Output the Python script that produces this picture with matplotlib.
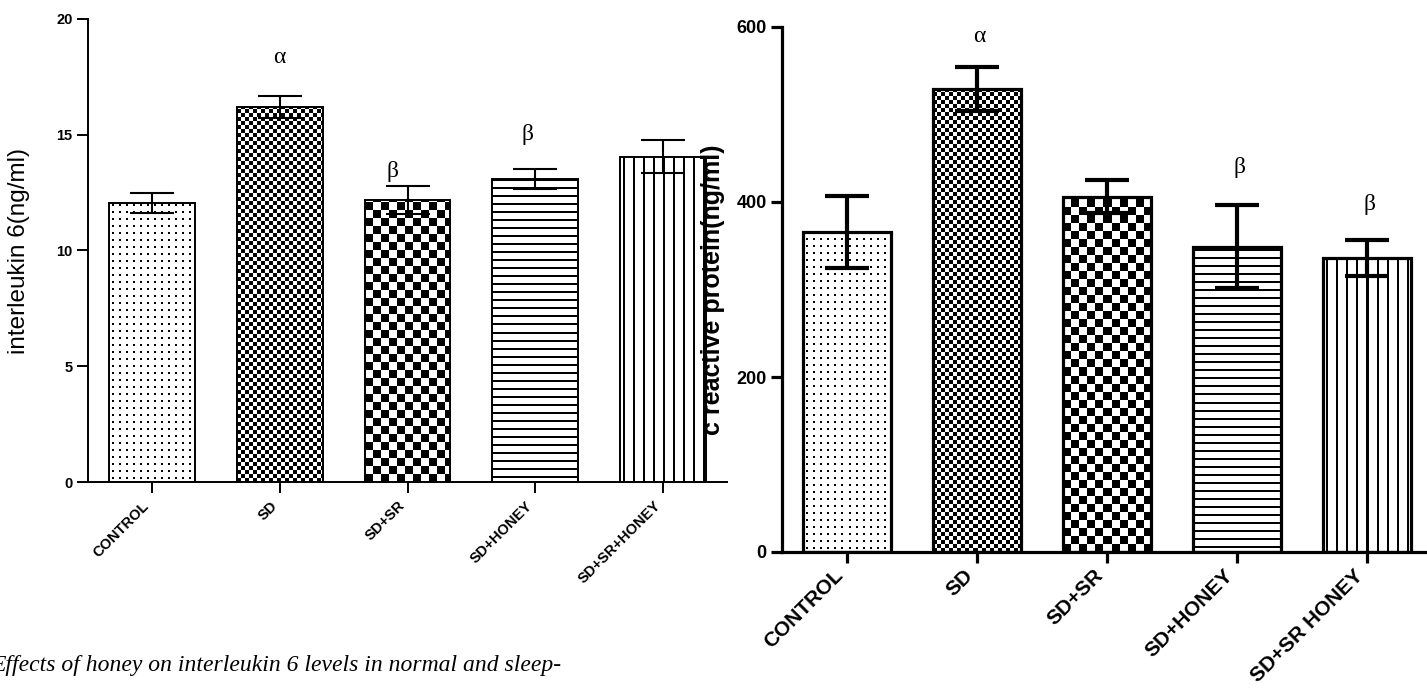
import numpy as np
import matplotlib
matplotlib.use("Agg")
import matplotlib.pyplot as plt

plt.rcParams['font.family'] = ['Liberation Sans', 'DejaVu Sans']

# data
groups_il6 = ['CONTROL', 'SD', 'SD+SR', 'SD+HONEY', 'SD+SR+HONEY']
il6_mean = [12.05, 16.2, 12.18, 13.1, 14.05]
il6_sem = [0.42, 0.47, 0.6, 0.43, 0.72]
il6_marks = [('α', 1.0, 18.35), ('β', 1.88, 13.4), ('β', 2.94, 15.0)]

groups_crp = ['CONTROL', 'SD', 'SD+SR', 'SD+HONEY', 'SD+SR HONEY']
crp_mean = [366, 529, 406, 349, 336]
crp_sem = [41, 25, 19, 47, 21]
crp_marks = [('α', 1.02, 589), ('β', 3.02, 440), ('β', 4.02, 397)]

patterns = ['dots', 'fine', 'coarse', 'hlines', 'vlines']


def texture(kind, w, h):
    yy, xx = np.mgrid[0:h, 0:w]
    if kind == 'dots':
        black = ((xx - 3) % 7 < 2) & ((yy - 3) % 7 < 2)
    elif kind == 'fine':
        black = (xx // 4 + yy // 4) % 2 == 0
    elif kind == 'coarse':
        black = (xx // 8 + yy // 8) % 2 == 0
    elif kind == 'hlines':
        black = (yy - 4) % 8 < 2
    else:
        black = (xx - 3) % 10 < 2
    return np.where(black, 0.0, 1.0)


def draw_panel(ax, names, means, sems, marks, ymax, step, lw, elw, tick_fs, xt_fs, xpad,
               label, label_fs, label_w, label_x):
    x = np.arange(len(names))
    width = 0.67
    ax.set_xlim(-0.5, 4.5)
    ax.set_ylim(0, ymax)
    bars = ax.bar(x, means, width=width, facecolor='none', edgecolor='black', linewidth=lw, zorder=3)
    for b, kind in zip(bars, patterns):
        x0, x1 = b.get_x(), b.get_x() + b.get_width()
        top = b.get_height()
        p0 = ax.transData.transform((x0, 0))
        p1 = ax.transData.transform((x1, top))
        w = max(int(round(p1[0] - p0[0])), 1)
        h = max(int(round(p1[1] - p0[1])), 1)
        ax.imshow(texture(kind, w, h), cmap='gray', vmin=0, vmax=1, extent=(x0, x1, 0, top),
                  origin='lower', interpolation='nearest', aspect='auto', zorder=2)
    ax.errorbar(x, means, yerr=sems, fmt='none', ecolor='black', elinewidth=elw,
                capsize=15.5, capthick=elw, zorder=4)
    for sym, mx, my in marks:
        ax.text(mx, my, sym, ha='center', va='center', fontsize=17,
                family=['Liberation Serif', 'DejaVu Serif'], zorder=5)
    ax.set_xlim(-0.5, 4.5)
    ax.set_ylim(0, ymax)
    yt = np.arange(0, ymax + 1, step)
    ax.set_yticks(yt)
    ax.set_yticklabels([str(v) for v in yt], fontsize=tick_fs, fontweight='bold')
    ax.set_xticks(x)
    ax.set_xticklabels(names, rotation=45, ha='right', va='top',
                       fontsize=xt_fs, fontweight='bold')
    ax.tick_params(axis='both', direction='out', length=8, width=lw, pad=3)
    ax.tick_params(axis='x', pad=xpad)
    for s in ['top', 'right']:
        ax.spines[s].set_visible(False)
    for s in ['left', 'bottom']:
        ax.spines[s].set_linewidth(lw)
    ax.set_ylabel(label, fontsize=label_fs, fontweight=label_w)
    ax.yaxis.set_label_coords(label_x, 0.5)


fig = plt.figure(figsize=(14.27, 6.88), dpi=100)

ax1 = fig.add_axes([88 / 1427, 206 / 688, 639 / 1427, 463 / 688])
draw_panel(ax1, groups_il6, il6_mean, il6_sem, il6_marks, 20, 5, 1.4, 1.5, 10.5, 10.5, 4,
           'interleukin 6(ng/ml)', 17.5, 'normal', -0.09)

ax2 = fig.add_axes([782 / 1427, 136 / 688, 650 / 1427, 525 / 688])
draw_panel(ax2, groups_crp, crp_mean, crp_sem, crp_marks, 600, 200, 2.3, 3.0, 13, 15, 2,
           'c reactive protein(ng/ml)', 18, 'bold', -0.088)

fig.text(-0.006, 0.025, 'Effects of honey on interleukin 6 levels in normal and sleep-',
         fontsize=17, style='italic', family=['Liberation Serif', 'DejaVu Serif'])

fig.savefig('out.png', dpi=100)
